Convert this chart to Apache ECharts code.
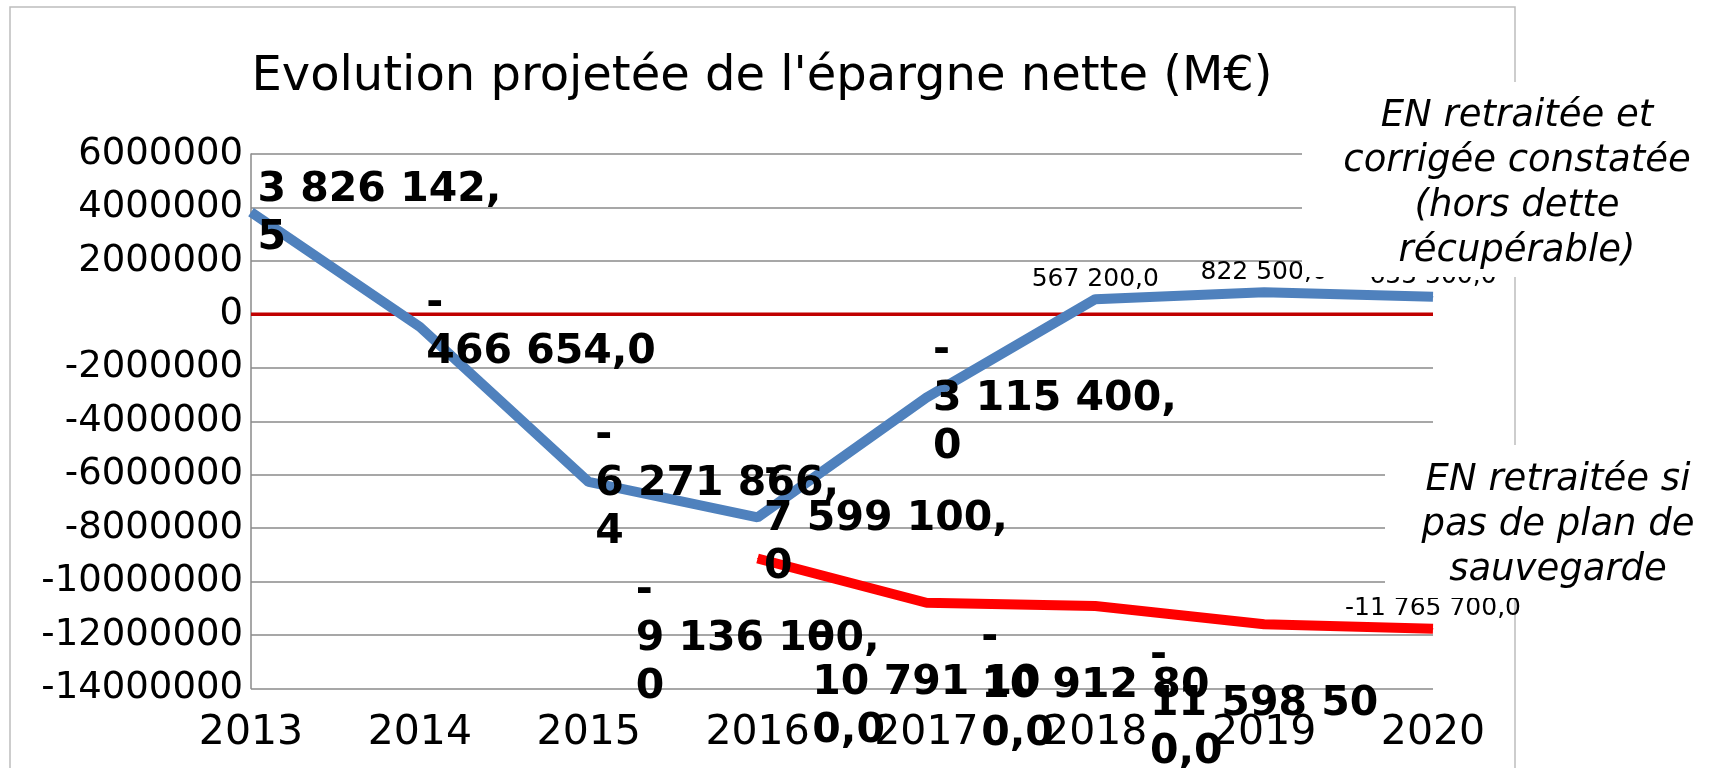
<!DOCTYPE html>
<html>
<head>
<meta charset="utf-8">
<title>Evolution projetée de l'épargne nette</title>
<script src="https://cdn.jsdelivr.net/npm/echarts@6/dist/echarts.min.js"></script>
<style>
  html, body { margin: 0; padding: 0; background: #fff; }
  #main { width: 1714px; height: 768px; }
</style>
</head>
<body>
<div id="main"></div>
<script>
// données
const annees = ['2013', '2014', '2015', '2016', '2017', '2018', '2019', '2020'];
const enCorrigee = [3826142.5, -466654.0, -6271866.4, -7599100.0, -3115400.0, 567200.0, 822500.0, 655500.0];
const enSansPlan = [null, null, null, -9136100.0, -10791100.0, -10912800.0, -11598500.0, -11765700.0];
const ligneZero = [0, 0, 0, 0, 0, 0, 0, 0];
const nomCorrigee = 'EN retraitée et\ncorrigée constatée\n(hors dette\nrécupérable)';
const nomSansPlan = 'EN retraitée si\npas de plan de\nsauvegarde';

const FONT = '"DejaVu Sans", sans-serif';
const BOLD = 'bold 41px ' + FONT;
const MAXW = 245;  // largeur max d'une étiquette avant retour à la ligne

const ctx = document.createElement('canvas').getContext('2d');

// 3826142.5 -> "3 826 142,5"
function fr(v) {
  const s = Math.abs(v).toFixed(1).split('.');
  const ent = s[0].replace(/\B(?=(\d{3})+(?!\d))/g, ' ');
  return (v < 0 ? '-' : '') + ent + ',' + s[1];
}

// coupe le texte comme Excel le fait dans la zone d'étiquette
function decoupe(txt) {
  ctx.font = BOLD;
  if (ctx.measureText(txt).width <= MAXW) return [txt];
  const lignes = [];
  if (txt[0] === '-') { lignes.push('-'); txt = txt.slice(1); }
  let cur = '';
  for (const ch of txt) {
    if (cur && ctx.measureText(cur + ch).width > MAXW) { lignes.push(cur); cur = ch; }
    else cur += ch;
  }
  lignes.push(cur);
  return lignes;
}

function largeur(lignes) {
  ctx.font = BOLD;
  return Math.max(...lignes.map(l => ctx.measureText(l).width));
}

const petit = { show: true, position: 'top', distance: 7, fontFamily: FONT, fontSize: 25, color: '#000' };

function gras(v, pos) {
  const lignes = decoupe(fr(v));
  const lab = {
    show: true, position: pos, distance: 6, fontFamily: FONT, fontSize: 41, fontWeight: 'bold',
    lineHeight: 48, color: '#000', align: 'left', formatter: lignes.join('\n'), offset: [0, 2]
  };
  // sous le point : bloc centré, lignes alignées à gauche
  if (pos === 'bottom') lab.offset = [-largeur(lignes) / 2, 2];
  return lab;
}

const dataCorrigee = enCorrigee.map((v, i) => ({
  value: v,
  label: i <= 4 ? gras(v, 'right') : Object.assign({ formatter: fr(v) }, petit)
}));
const dataSansPlan = enSansPlan.map((v, i) => v === null ? null : ({
  value: v,
  label: i < 7 ? gras(v, 'bottom') : Object.assign({ formatter: fr(v) }, petit)
}));

const chart = echarts.init(document.getElementById('main'));
chart.setOption({
  animation: false,
  backgroundColor: '#fff',
  title: {
    text: "Evolution projetée de l'épargne nette (M€)",
    left: 757, top: 49, textAlign: 'center',
    textStyle: { fontFamily: FONT, fontSize: 48, fontWeight: 'normal', color: '#000' }
  },
  grid: { left: 251, right: 281, top: 154, bottom: 79.5, containLabel: false },
  xAxis: {
    type: 'category', data: annees, boundaryGap: false,
    axisLine: { show: false }, axisTick: { show: false },
    axisLabel: { fontFamily: FONT, fontSize: 41, color: '#000', margin: 24 }
  },
  yAxis: {
    type: 'value', min: -14000000, max: 6000000, interval: 2000000,
    axisLine: { show: true, lineStyle: { color: '#8a8a8a', width: 1.5 } },
    axisTick: { show: false },
    splitLine: { lineStyle: { color: '#8a8a8a', width: 1.5 } },
    axisLabel: { fontFamily: FONT, fontSize: 37, color: '#000', margin: 8, padding: [4, 0, 0, 0],
                 formatter: v => String(v) }
  },
  series: [
    {
      name: 'Zéro', type: 'line', data: ligneZero, z: 1, silent: true,
      symbol: 'none', lineStyle: { color: '#C00000', width: 3.5 }
    },
    {
      name: nomCorrigee, type: 'line', data: dataCorrigee, z: 3,
      symbol: 'circle', symbolSize: 1, itemStyle: { color: '#4F81BD' },
      lineStyle: { color: '#4F81BD', width: 10 }
    },
    {
      name: nomSansPlan, type: 'line', data: dataSansPlan, z: 3,
      symbol: 'circle', symbolSize: 1, itemStyle: { color: '#FF0000' },
      lineStyle: { color: '#FF0000', width: 10 }
    }
  ],
  graphic: [
    { type: 'rect', z: 0, silent: true, shape: { x: 10, y: 7, width: 1505, height: 800 },
      style: { fill: 'none', stroke: '#bdbdbd', lineWidth: 1.5 } },
    { type: 'rect', z: 100, silent: true, shape: { x: 1302, y: 82, width: 500, height: 195 },
      style: { fill: '#fff' } },
    { type: 'rect', z: 100, silent: true, shape: { x: 1385, y: 445, width: 400, height: 153 },
      style: { fill: '#fff' } },
    { type: 'text', z: 101, silent: true, x: 1517, y: 94,
      style: { text: nomCorrigee, font: 'italic 37px ' + FONT, lineHeight: 45, fill: '#000',
               align: 'center', verticalAlign: 'top' } },
    { type: 'text', z: 101, silent: true, x: 1558, y: 458,
      style: { text: nomSansPlan, font: 'italic 37px ' + FONT, lineHeight: 45, fill: '#000',
               align: 'center', verticalAlign: 'top' } }
  ]
});
</script>
</body>
</html>
